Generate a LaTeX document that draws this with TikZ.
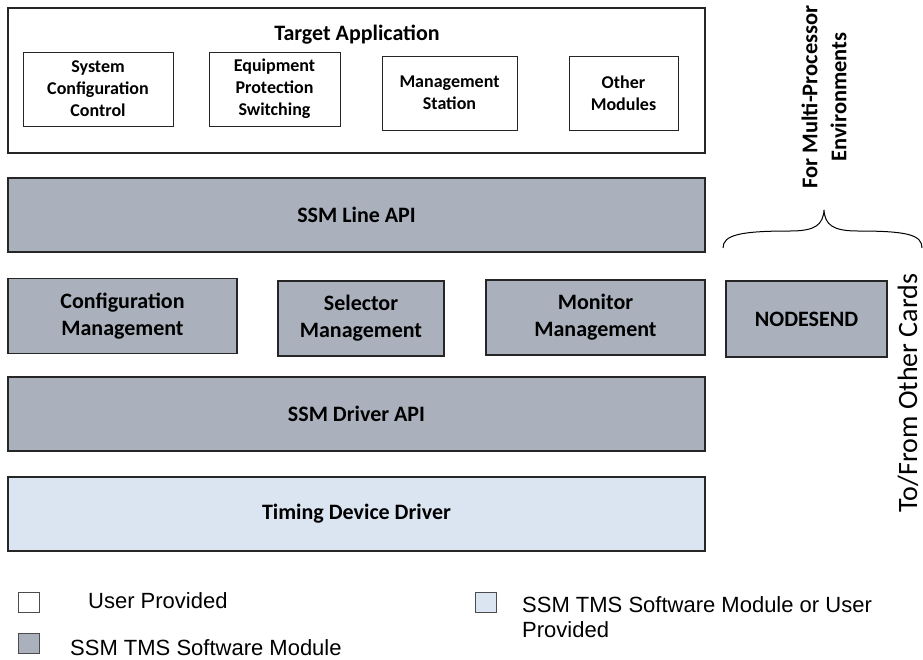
\documentclass[tikz,border=0pt]{standalone}
\usepackage{fontspec}
\setmainfont{Carlito}
\newfontfamily\legendfont{Liberation Sans}
\definecolor{ssmgrey}{RGB}{170,177,189}
\definecolor{ssmlight}{RGB}{219,228,241}
\tikzset{
  layer/.style={draw=black!85, line width=1.2pt, inner sep=0pt, align=center,
    font=\fontsize{22}{27}\selectfont\bfseries},
  userbox/.style={layer, fill=white},
  ssmbox/.style={layer, fill=ssmgrey},
  mixbox/.style={layer, fill=ssmlight},
  appbox/.style={draw=black!85, line width=1pt, inner sep=0pt, align=center,
    fill=white, font=\fontsize{18}{22}\selectfont\bfseries},
  keybox/.style={draw=black!70, line width=0.8pt, minimum width=21,
    minimum height=20, inner sep=0pt},
  keytext/.style={anchor=west, inner sep=0pt, align=left,
    font=\legendfont\fontsize{22}{25}\selectfont},
}
\begin{document}
\begin{tikzpicture}[x=1pt,y=-1pt]
    \useasboundingbox (0,0) rectangle (923,659);

    % target application and its modules
    \node[userbox, minimum width=697, minimum height=145] (target) at (356.5,80.5) {};
    \node[anchor=base, inner sep=0pt, font=\fontsize{22}{27}\selectfont\bfseries]
        (targettitle) at (357,40) {Target Application};
    \node[appbox, minimum width=150, minimum height=74] (sysconf) at (98,89)
        {System\\Configuration\\Control};
    \node[appbox, minimum width=131, minimum height=74] (eps) at (274.5,89)
        {Equipment\\Protection\\Switching};
    \node[appbox, minimum width=135, minimum height=74] (station) at (449.5,93)
        {Management\\Station};
    \node[appbox, minimum width=109, minimum height=74] (othermod) at (623.5,93)
        {Other\\Modules};

    % ssm layers
    \node[ssmbox, minimum width=697, minimum height=74] (lineapi) at (356.5,215)
        {SSM Line API};
    \node[ssmbox, minimum width=229, minimum height=75] (confmgmt) at (122.5,316)
        {Configuration\\Management};
    \node[ssmbox, minimum width=166, minimum height=75] (selmgmt) at (361,318.5)
        {Selector\\Management};
    \node[ssmbox, minimum width=219, minimum height=75] (monmgmt) at (595.5,317.5)
        {Monitor\\Management};
    \node[ssmbox, minimum width=161, minimum height=76] (nodesend) at (806.5,319)
        {NODESEND};
    \node[ssmbox, minimum width=697, minimum height=74] (driverapi) at (356.5,414)
        {SSM Driver API};
    \node[mixbox, minimum width=697, minimum height=74] (timing) at (356.5,514)
        {Timing Device Driver};

    % multi-processor side
    \draw[line width=1pt] (723,248)
        .. controls (723,235) and (740,231) .. (790,231)
        .. controls (815,231) and (823,225) .. (824,210)
        .. controls (825,225) and (833,231) .. (858,231)
        .. controls (908,231) and (922,235) .. (922,248);
    \node[rotate=90, align=center, inner sep=0pt,
        font=\fontsize{22.5}{29}\selectfont\bfseries] (multiproc) at (824,97)
        {For Multi-Processor\\Environments};
    \node[rotate=90, inner sep=0pt, font=\fontsize{28}{34}\selectfont]
        (othercards) at (908,393) {To/From Other Cards};

    % legend
    \node[keybox, fill=white] (keyuser) at (28.5,602.5) {};
    \node[keytext] (keyusertext) at (88,601) {User Provided};
    \node[keybox, fill=ssmgrey] (keyssm) at (28.5,643) {};
    \node[keytext] (keyssmtext) at (70,648) {SSM TMS Software Module};
    \node[keybox, fill=ssmlight] (keymix) at (486,602.5) {};
    \node[keytext] (keymixtext) at (522,617.5)
        {SSM TMS Software Module or User\\Provided};
\end{tikzpicture}
\end{document}
